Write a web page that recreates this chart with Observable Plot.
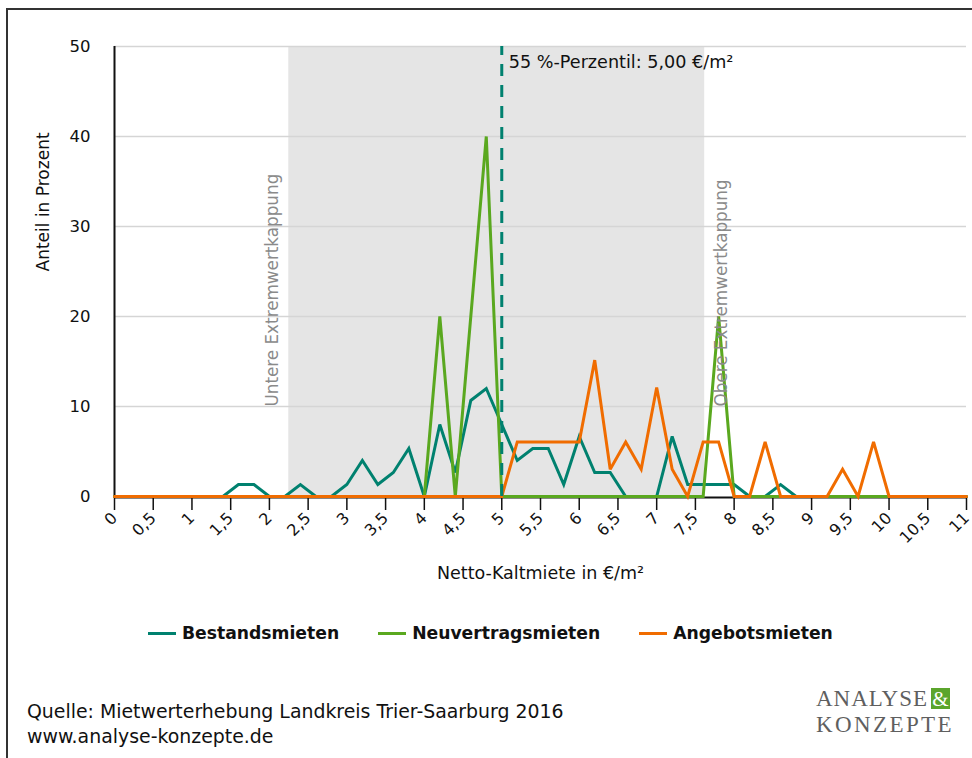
<!DOCTYPE html>
<html>
<head>
<meta charset="utf-8">
<script src="https://cdn.jsdelivr.net/npm/d3@7"></script>
<script src="https://cdn.jsdelivr.net/npm/@observablehq/plot@0.6"></script>
<style>
  html, body { margin: 0; padding: 0; background: #fff; }
  #wrap { position: relative; width: 972px; height: 758px; overflow: hidden; font-family: "DejaVu Sans", sans-serif; }
  #frame { position: absolute; left: 6px; top: 8px; right: -10px; bottom: -10px; border-top: 2px solid #333; border-left: 2px solid #333; pointer-events: none; }
  #chart { position: absolute; left: 0; top: 0; }
  #legend { position: absolute; left: 148px; top: 623px; display: flex; align-items: center; gap: 39px; font-weight: bold; font-size: 17.2px; color: #111; }
  .item { display: flex; align-items: center; gap: 6px; white-space: nowrap; }
  .sw { width: 28px; height: 3px; }
  #source { position: absolute; left: 27px; top: 699px; font-size: 18.9px; line-height: 25px; color: #111; }
  .logo { position: absolute; left: 816px; font-family: "Liberation Serif", "DejaVu Serif", serif; color: #5f5f5f; font-size: 23px; line-height: 26px; white-space: nowrap; }
  .amp { display: inline-block; background: #5ba52c; color: #fff; width: 19px; height: 21px; line-height: 22px; text-align: center; margin-left: 3px; vertical-align: top; margin-top: 2px; font-size: 21px; }
</style>
</head>
<body>
<div id="wrap">
  <div id="chart"></div>
  <div id="legend"></div>
  <div id="source"></div>
  <div class="logo" style="top:686px"><span style="letter-spacing:1px">ANALYSE</span><span class="amp">&amp;</span></div>
  <div class="logo" style="top:712px"><span style="letter-spacing:2.4px">KONZEPTE</span></div>
  <div id="frame"></div>
</div>
<script>
// ---- data ----
const miete = [0,0.2,0.4,0.6,0.8,1,1.2,1.4,1.6,1.8,2,2.2,2.4,2.6,2.8,3,3.2,3.4,3.6,3.8,4,4.2,4.4,4.6,4.8,5,5.2,5.4,5.6,5.8,6,6.2,6.4,6.6,6.8,7,7.2,7.4,7.6,7.8,8,8.2,8.4,8.6,8.8,9,9.2,9.4,9.6,9.8,10,10.2,10.4,10.6,10.8,11];
const bestandsmieten = [0,0,0,0,0,0,0,0,1.33,1.33,0,0,1.33,0,0,1.33,4,1.33,2.67,5.33,0,8,2.67,10.67,12,8,4,5.33,5.33,1.33,6.67,2.67,2.67,0,0,0,6.67,1.33,1.33,1.33,1.33,0,0,1.33,0,0,0,0,0,0,0,0,0,0,0,0];
const neuvertragsmieten = [0,0,0,0,0,0,0,0,0,0,0,0,0,0,0,0,0,0,0,0,0,20,0,20,40,0,0,0,0,0,0,0,0,0,0,0,0,0,0,20,0,0,0,0,0,0,0,0,0,0,0,0,0,0,0,0];
const angebotsmieten = [0,0,0,0,0,0,0,0,0,0,0,0,0,0,0,0,0,0,0,0,0,0,0,0,0,0,6.06,6.06,6.06,6.06,6.06,15.15,3.03,6.06,3.03,12.12,3.03,0,6.06,6.06,0,0,6.06,0,0,0,0,3.03,0,6.06,0,0,0,0,0,0];
const seriesNames = ["Bestandsmieten", "Neuvertragsmieten", "Angebotsmieten"];
const seriesColors = ["#00816f", "#5aa81f", "#f06c00"];
const kappung = [2.25, 7.62];           // untere / obere Extremwertkappung
const perzentil = 5.0;                   // 55 %-Perzentil
const perzentilLabel = "55 %-Perzentil: 5,00 €/m²";
const kappungLabels = ["Untere Extremwertkappung", "Obere Extremwertkappung"];
const xTicks = [0,0.5,1,1.5,2,2.5,3,3.5,4,4.5,5,5.5,6,6.5,7,7.5,8,8.5,9,9.5,10,10.5,11];
const yTicks = [0,10,20,30,40,50];
const xLabel = "Netto-Kaltmiete in €/m²";
const yLabel = "Anteil in Prozent";
const sourceLines = ["Quelle: Mietwerterhebung Landkreis Trier-Saarburg 2016", "www.analyse-konzepte.de"];

// ---- build ----
const allSeries = [bestandsmieten, neuvertragsmieten, angebotsmieten];
const rowsFor = vals => miete.map((x, i) => ({x, v: vals[i]}));
const fmt = d => String(d).replace(".", ",");

const lineMarks = allSeries.map((vals, k) =>
  Plot.line(rowsFor(vals), {x: "x", y: "v", stroke: seriesColors[k], strokeWidth: 3, strokeLinejoin: "miter", strokeMiterlimit: 3})
);

const chart = Plot.plot({
  width: 972,
  height: 600,
  marginLeft: 114,
  marginRight: 6,
  marginTop: 46,
  marginBottom: 104,
  x: {domain: [0, 11]},
  y: {domain: [0, 50]},
  style: {fontFamily: "DejaVu Sans, sans-serif", fontSize: "15px", color: "#111", background: "transparent", overflow: "visible"},
  marks: [
    Plot.rect([{a: kappung[0], b: kappung[1]}], {x1: "a", x2: "b", y1: 0, y2: 50, fill: "#e5e5e5"}),
    Plot.ruleY(yTicks.filter(d => d > 0), {stroke: "#d5d5d5", strokeWidth: 1.5}),
    Plot.axisY(yTicks, {tickSize: 0, tickPadding: 24, label: null, fontSize: 16.5}),
    Plot.axisX(xTicks, {tickSize: 14, tickRotate: -45, tickFormat: fmt, label: null, tickPadding: 5, fontSize: 16, strokeWidth: 1.5}),
    Plot.ruleX([0], {stroke: "#111", strokeWidth: 2}),
    Plot.ruleY([0], {stroke: "#111", strokeWidth: 2, dy: 1}),
    ...lineMarks,
    Plot.ruleX([perzentil], {y1: 0, y2: 50, stroke: seriesColors[0], strokeWidth: 3, strokeDasharray: "12,9"}),
    Plot.text([perzentilLabel], {text: d => d, x: perzentil, y: 50, dx: 7, dy: 9, textAnchor: "start", lineAnchor: "top", fontSize: 17.6, fill: "#111"}),
    Plot.text([kappungLabels[0]], {text: d => d, x: kappung[0], y: 10, dx: -16, rotate: -90, textAnchor: "start", fontSize: 16.8, fill: "#8a8a8a"}),
    Plot.text([kappungLabels[1]], {text: d => d, x: kappung[1], y: 10, dx: 17, rotate: -90, textAnchor: "start", fontSize: 16.8, fill: "#8a8a8a"}),
    Plot.text([xLabel], {text: d => d, frameAnchor: "bottom", dy: 82, fontSize: 17.5, fill: "#111"}),
    Plot.text([yLabel], {text: d => d, frameAnchor: "left", dx: -71, rotate: -90, fontSize: 17, fill: "#111"})
  ]
});
document.getElementById("chart").appendChild(chart);

const legend = document.getElementById("legend");
seriesNames.forEach((name, k) => {
  const it = document.createElement("div");
  it.className = "item";
  const sw = document.createElement("span");
  sw.className = "sw";
  sw.style.background = seriesColors[k];
  const t = document.createElement("span");
  t.textContent = name;
  it.appendChild(sw); it.appendChild(t);
  legend.appendChild(it);
});
document.getElementById("source").innerHTML = sourceLines.map(s => `<div>${s}</div>`).join("");
</script>
</body>
</html>
